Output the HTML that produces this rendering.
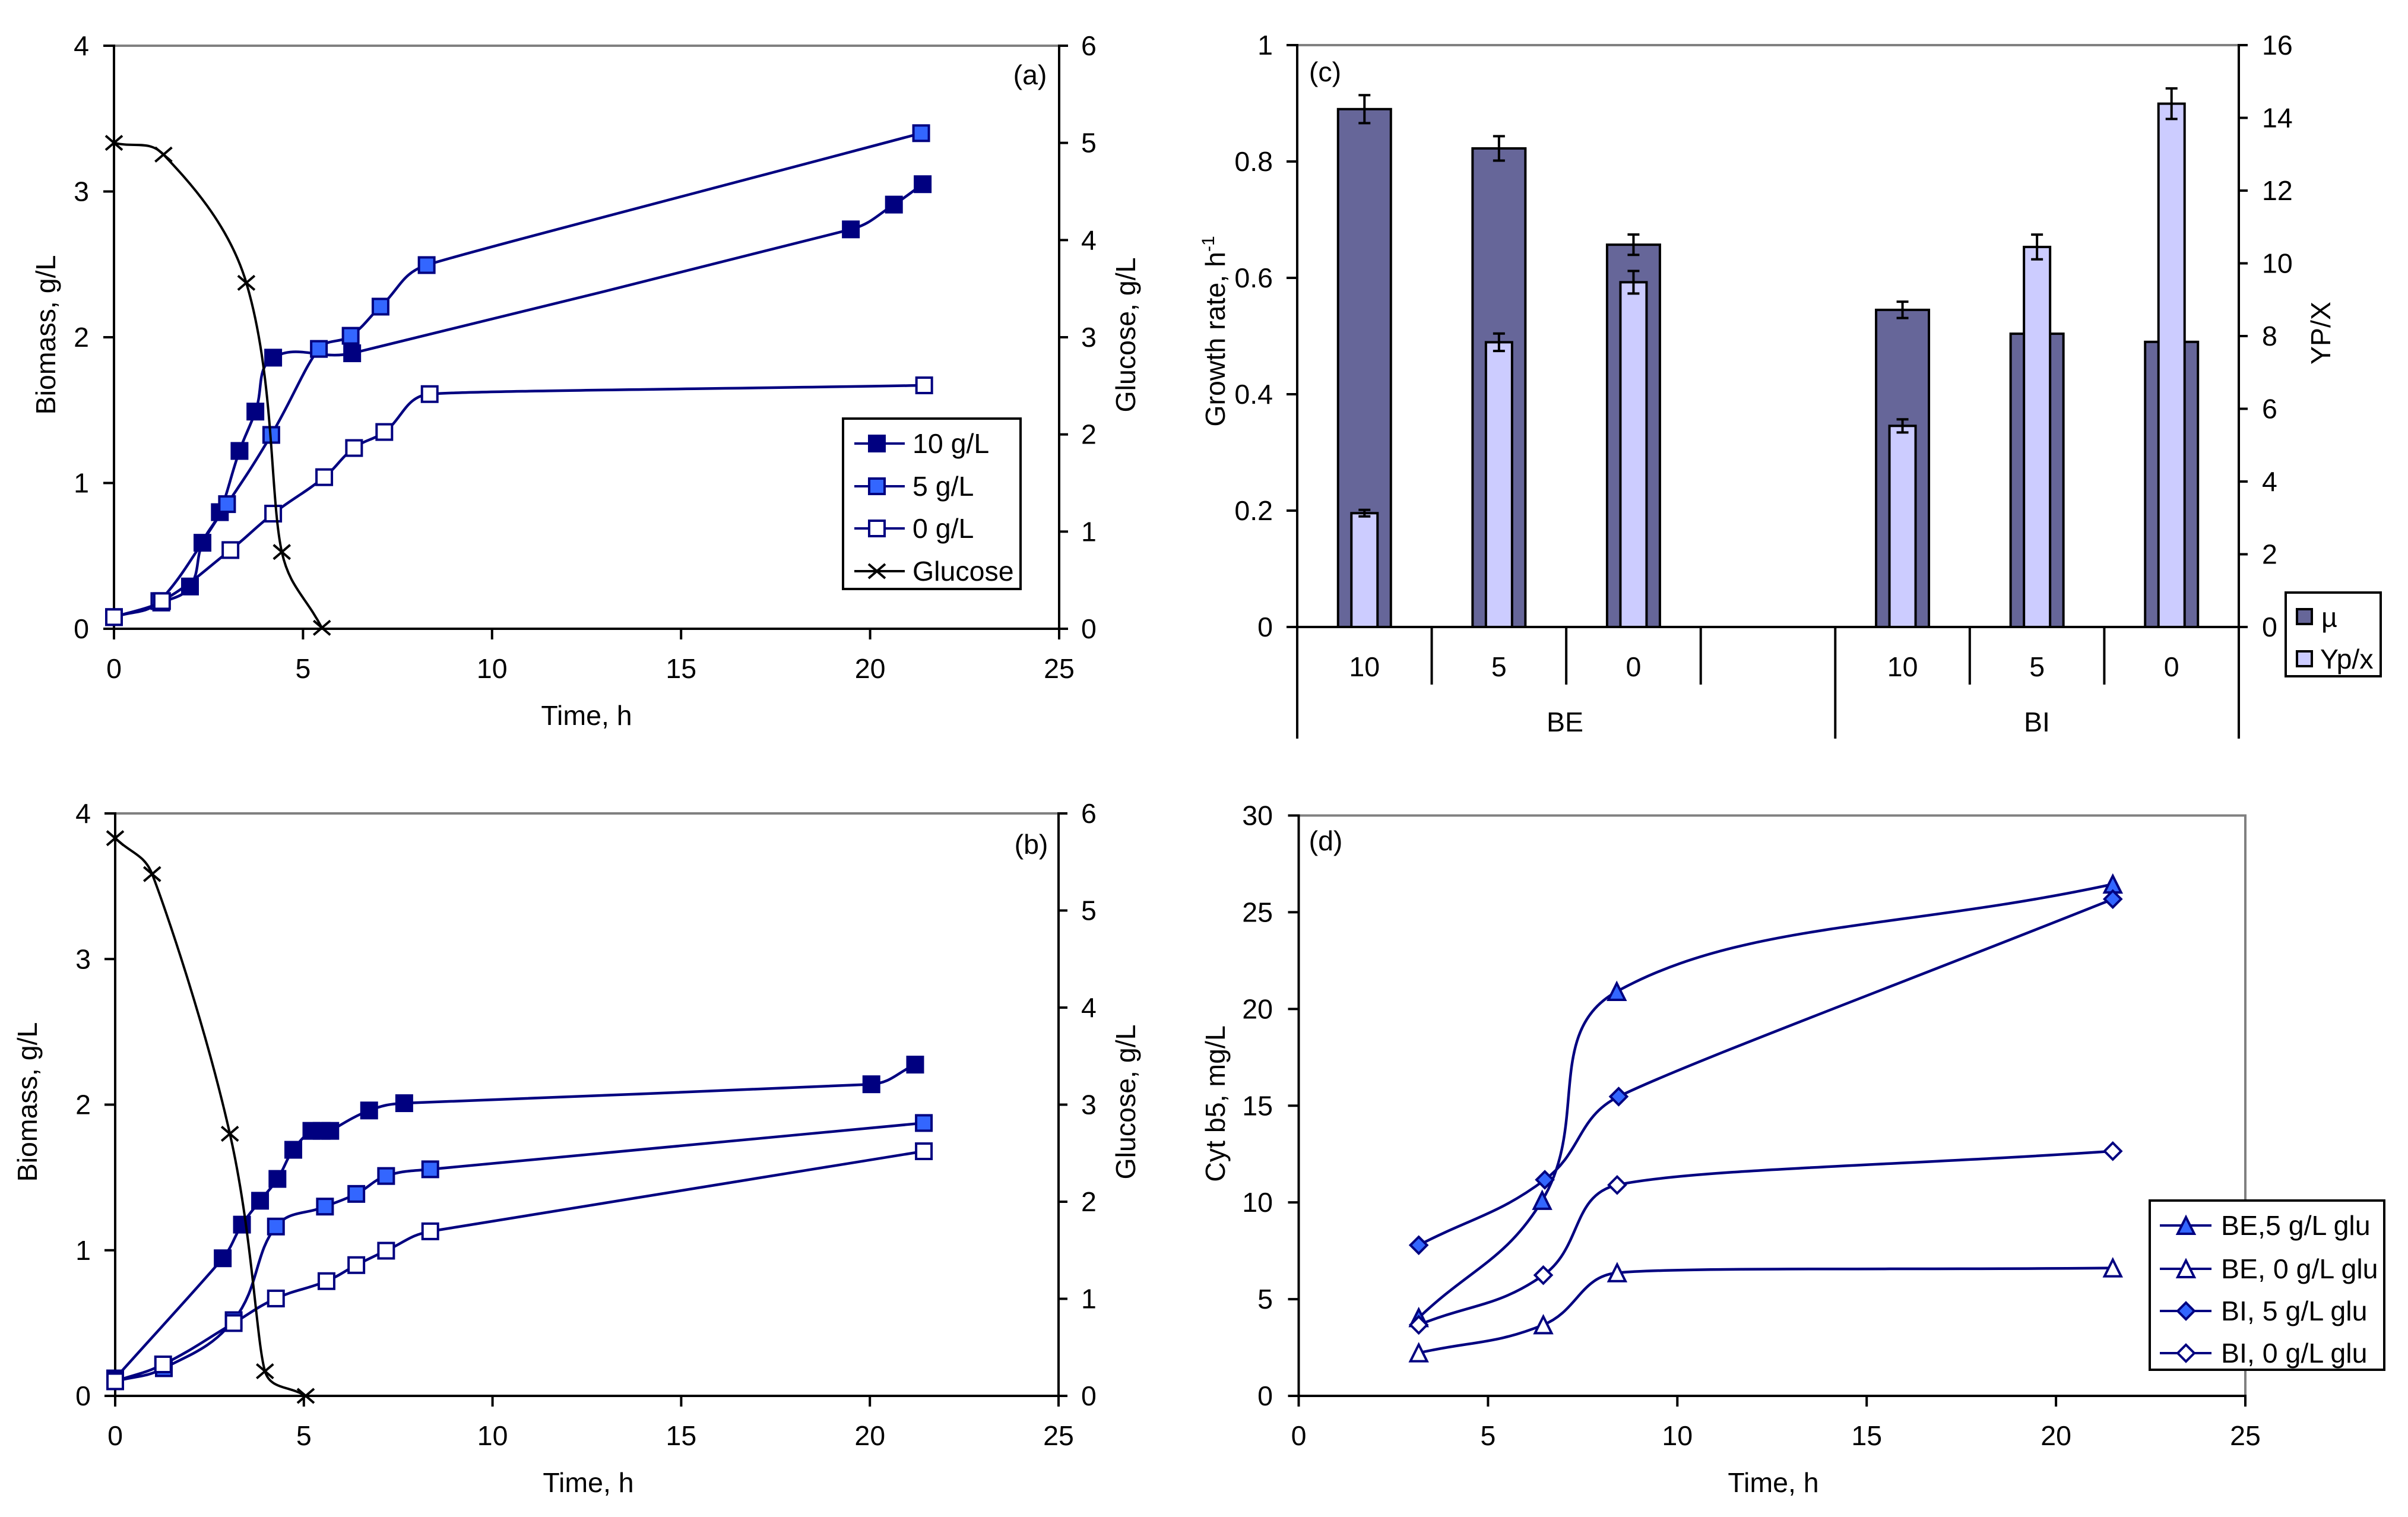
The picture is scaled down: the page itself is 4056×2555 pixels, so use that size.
<!DOCTYPE html>
<html lang="en">
<head>
<meta charset="utf-8">
<title>Biomass, glucose, growth rate and Cyt b5 charts</title>
<style>
html,body{margin:0;padding:0;background:#fff;}
#figure{display:block;width:4056px;height:2555px;background:#fff;}
text{font-family:"Liberation Sans",Arial,sans-serif;font-size:46.5px;fill:#000;}
</style>
</head>
<body>
<svg id="figure" xmlns="http://www.w3.org/2000/svg" width="4056" height="2555" viewBox="0 0 4056 2555"></svg>
<script>
// ---------- tick labels ----------
var timeTicks = [0, 5, 10, 15, 20, 25];
var biomassTicks = [0, 1, 2, 3, 4];
var glucoseTicks = [0, 1, 2, 3, 4, 5, 6];
var growthTicks = [0, 0.2, 0.4, 0.6, 0.8, 1];
var yieldTicks = [0, 2, 4, 6, 8, 10, 12, 14, 16];
var cytTicks = [0, 5, 10, 15, 20, 25, 30];

// ---------- panel (a) ----------
var aTime10 = [0, 1.25, 2.01, 2.34, 2.80, 3.32, 3.74, 4.21, 6.30, 19.49, 20.63, 21.39];
var aBiomass10 = [0.08, 0.18, 0.29, 0.59, 0.80, 1.22, 1.49, 1.86, 1.89, 2.74, 2.91, 3.05];
var aTime5 = [0, 1.2, 2.99, 4.16, 5.42, 6.26, 7.05, 8.27, 21.35];
var aBiomass5 = [0.08, 0.19, 0.855, 1.33, 1.92, 2.01, 2.21, 2.495, 3.40];
var aTime0 = [0, 1.27, 3.08, 4.21, 5.56, 6.35, 7.15, 8.35, 21.43];
var aBiomass0 = [0.08, 0.19, 0.54, 0.79, 1.04, 1.24, 1.35, 1.61, 1.67];
var aGlucoseTime = [0, 1.31, 3.5, 4.44, 5.5];
var aGlucose = [5.0, 4.88, 3.56, 0.79, 0.01];

// ---------- panel (b) ----------
var bTime10 = [0, 2.85, 3.36, 3.84, 4.3, 4.72, 5.2, 5.47, 5.7, 6.73, 7.66, 20.04, 21.2];
var bBiomass10 = [0.12, 0.945, 1.176, 1.34, 1.49, 1.69, 1.82, 1.82, 1.82, 1.96, 2.01, 2.14, 2.275];
var bTime5 = [0, 1.29, 3.14, 4.26, 5.56, 6.39, 7.18, 8.35, 21.43];
var bBiomass5 = [0.10, 0.19, 0.52, 1.163, 1.30, 1.387, 1.51, 1.556, 1.874];
var bTime0 = [0, 1.27, 3.14, 4.26, 5.6, 6.39, 7.18, 8.35, 21.43];
var bBiomass0 = [0.10, 0.216, 0.50, 0.669, 0.788, 0.898, 0.997, 1.13, 1.68];
var bGlucoseTime = [0, 0.98, 3.04, 3.97, 5.05];
var bGlucose = [5.745, 5.375, 2.70, 0.254, 0.0];

// ---------- panel (c) ----------
var cCategories = ["10", "5", "0", "", "10", "5", "0"];
var cGroups = ["BE", "BI"];
var cMu = [0.89, 0.8225, 0.657, null, 0.545, 0.504, 0.49];
var cMuError = [0.024, 0.021, 0.0175, null, 0.014, 0, 0];
var cYield = [3.13, 7.83, 9.48, null, 5.53, 10.45, 14.39];
var cYieldError = [0.09, 0.24, 0.31, null, 0.18, 0.34, 0.42];

// ---------- panel (d) ----------
var dTimeBE5 = [3.17, 6.43, 8.4, 21.5];
var dCytBE5 = [4.04, 10.1, 20.9, 26.45];
var dTimeBE0 = [3.17, 6.46, 8.41, 21.5];
var dCytBE0 = [2.22, 3.67, 6.36, 6.61];
var dTimeBI5 = [3.17, 6.5, 8.45, 21.5];
var dCytBI5 = [7.79, 11.17, 15.47, 25.68];
var dTimeBI0 = [3.17, 6.46, 8.41, 21.5];
var dCytBI0 = [3.67, 6.24, 10.9, 12.65];

// ---------- drawing helpers ----------
var NS = 'http://www.w3.org/2000/svg';
var svg = document.getElementById('figure');
var NAVY = '#000080', BLUE = '#3366FF', GRAY = '#808080', SW = 4, CURVE_W = 4.5;

function make(tag, attrs, parent) {
  var el = document.createElementNS(NS, tag);
  for (var k in attrs) { el.setAttribute(k, attrs[k]); }
  (parent || svg).appendChild(el);
  return el;
}
function group(name) {
  var g = make('g', {});
  
  
  return g;
}
function drawLine(parent, name, x1, y1, x2, y2, color, width) {
  var el = make('line', {x1: x1, y1: y1, x2: x2, y2: y2, stroke: color || '#000', 'stroke-width': width || SW}, parent);
  
  
  return el;
}
function drawText(parent, name, str, x, y, anchor) {
  var el = make('text', {x: x, y: y + 16, 'text-anchor': anchor || 'middle'}, parent);
  el.textContent = str;
  
  
  return el;
}
function drawRotated(parent, name, str, x, y) {
  var el = make('text', {x: 0, y: 17, 'text-anchor': 'middle', transform: 'translate(' + x + ' ' + y + ') rotate(-90)'}, parent);
  el.textContent = str;
  
  
  return el;
}
function linear(d0, d1, r0, r1) {
  return function (v) { return r0 + (v - d0) / (d1 - d0) * (r1 - r0); };
}
function smoothPath(pts) {
  var k = 0.42, cap = 0.65;
  var d = 'M' + pts[0][0] + ' ' + pts[0][1];
  function dist(a, b) { return Math.sqrt((a[0]-b[0])*(a[0]-b[0]) + (a[1]-b[1])*(a[1]-b[1])); }
  for (var i = 0; i < pts.length - 1; i++) {
    var p0 = pts[i-1] || pts[i], p1 = pts[i], p2 = pts[i+1], p3 = pts[i+2] || p2;
    var d1 = dist(p0, p1), d2 = dist(p1, p2), d3 = dist(p2, p3);
    var f1 = k * d2 / ((d1 + d2) || 1), f2 = k * d2 / ((d2 + d3) || 1);
    var l1 = dist(p2, p0) * f1, l2 = dist(p3, p1) * f2;
    if (d1 > 0 && l1 > cap * d1) { f1 *= cap * d1 / l1; }
    if (d3 > 0 && l2 > cap * d3) { f2 *= cap * d3 / l2; }
    d += ' C' + (p1[0] + (p2[0]-p0[0])*f1).toFixed(1) + ' ' + (p1[1] + (p2[1]-p0[1])*f1).toFixed(1) +
         ' ' + (p2[0] - (p3[0]-p1[0])*f2).toFixed(1) + ' ' + (p2[1] - (p3[1]-p1[1])*f2).toFixed(1) +
         ' ' + p2[0].toFixed(1) + ' ' + p2[1].toFixed(1);
  }
  return d;
}
function drawMarker(parent, name, kind, fill, cx, cy) {
  var el;
  if (kind === 'square') {
    el = make('rect', {x: cx - 13, y: cy - 13, width: 26, height: 26, fill: fill, stroke: NAVY, 'stroke-width': SW}, parent);
  } else if (kind === 'triangle') {
    el = make('polygon', {points: cx + ',' + (cy - 14) + ' ' + (cx + 14) + ',' + (cy + 14) + ' ' + (cx - 14) + ',' + (cy + 14), fill: fill, stroke: NAVY, 'stroke-width': SW}, parent);
  } else if (kind === 'diamond') {
    el = make('polygon', {points: cx + ',' + (cy - 14) + ' ' + (cx + 14) + ',' + cy + ' ' + cx + ',' + (cy + 14) + ' ' + (cx - 14) + ',' + cy, fill: fill, stroke: NAVY, 'stroke-width': SW}, parent);
  } else {
    el = make('path', {d: 'M' + (cx-14) + ' ' + (cy+12) + ' L' + (cx+14) + ' ' + (cy-12) + ' M' + (cx-14) + ' ' + (cy-12) + ' L' + (cx+14) + ' ' + (cy+12), fill: 'none', stroke: '#000', 'stroke-width': SW}, parent);
  }
  
  
  return el;
}
function drawSeries(name, xs, ys, xFn, yFn, kind, fill, color, width) {
  var g = group(name + '-series');
  var pts = xs.map(function (x, i) { return [xFn(x), yFn(ys[i])]; });
  var line = make('path', {d: smoothPath(pts), fill: 'none', stroke: color, 'stroke-width': width, 'stroke-linejoin': 'round'}, g);
  
  
  pts.forEach(function (p) {
    drawMarker(g, name + '-point', kind, fill, p[0], p[1]);
  });
}
function drawLeftAxis(g, name, ticks, yFn, x, labelEnd) {
  ticks.forEach(function (t) {
    drawLine(g, name + '-tick', x - 18, yFn(t), x, yFn(t));
    drawText(g, name + '-tick-label', String(t), labelEnd, yFn(t), 'end');
  });
}
function drawRightAxis(g, name, ticks, yFn, x, labelStart) {
  ticks.forEach(function (t) {
    drawLine(g, name + '-tick', x, yFn(t), x + 15, yFn(t));
    drawText(g, name + '-tick-label', String(t), labelStart, yFn(t), 'start');
  });
}
function drawBottomAxis(g, ticks, xFn, y0, labelY) {
  ticks.forEach(function (t) {
    drawLine(g, 'x-axis-tick', xFn(t), y0, xFn(t), y0 + 18);
    drawText(g, 'x-axis-tick-label', String(t), xFn(t), labelY);
  });
}
function drawLegendBox(parent, name, x, y, w, h) {
  var box = make('rect', {x: x, y: y, width: w, height: h, fill: '#fff', stroke: '#000', 'stroke-width': SW}, parent);
  
  
}
function drawLegendRow(parent, name, label, y, lx1, lx2, mx, tx, kind, fill, color) {
  drawLine(parent, name + '-legend-line', lx1, y, lx2, y, color, SW);
  drawMarker(parent, name + '-legend-marker', kind, fill, mx, y);
  drawText(parent, name + '-legend-label', label, tx, y, 'start');
}

// ---------- time-course panels (a) and (b) ----------
function timeCoursePanel(id, L, R, T, B, leftLabelEnd, rightLabelStart, xLabelY, layout, data) {
  var xFn = linear(0, 25, L, R);
  var yLeft = linear(0, 4, B, T);
  var yRight = linear(0, 6, B, T);
  var axes = group('panel-' + id + '-axes');
  drawLine(axes, 'plot-top-border', L - 2, T, R + 2, T, GRAY);
  drawLine(axes, 'left-axis-line', L, T - 2, L, B + 18);
  drawLine(axes, 'right-axis-line', R, T - 2, R, B + 2);
  drawLine(axes, 'x-axis-line', L - 18, B, R + 15, B);
  drawLeftAxis(axes, 'biomass-axis', biomassTicks, yLeft, L, leftLabelEnd);
  drawRightAxis(axes, 'glucose-axis', glucoseTicks, yRight, R, rightLabelStart);
  drawBottomAxis(axes, timeTicks, xFn, B, xLabelY);
  drawRotated(axes, 'biomass-axis-title', 'Biomass, g/L', layout.biomassX, layout.titleY);
  drawRotated(axes, 'glucose-axis-title', 'Glucose, g/L', 1895, layout.titleY);
  drawText(axes, 'time-axis-title', 'Time, h', layout.timeX, layout.timeY);
  drawText(axes, 'panel-' + id + '-label', '(' + id + ')', layout.tagX, layout.tagY);
  drawSeries(id + '-10-g-l', data.t10, data.b10, xFn, yLeft, 'square', NAVY, NAVY, CURVE_W);
  drawSeries(id + '-5-g-l', data.t5, data.b5, xFn, yLeft, 'square', BLUE, NAVY, CURVE_W);
  drawSeries(id + '-0-g-l', data.t0, data.b0, xFn, yLeft, 'square', '#fff', NAVY, CURVE_W);
  drawSeries(id + '-glucose', data.tg, data.g, xFn, yRight, 'cross', 'none', '#000', 4);
}
timeCoursePanel('a', 192, 1784, 77, 1059, 150, 1821, 1126,
  {biomassX: 76, titleY: 564, timeX: 988, timeY: 1205, tagX: 1735, tagY: 126},
  {t10: aTime10, b10: aBiomass10, t5: aTime5, b5: aBiomass5, t0: aTime0, b0: aBiomass0, tg: aGlucoseTime, g: aGlucose});
timeCoursePanel('b', 194, 1783, 1370, 2351, 153, 1821, 2418,
  {biomassX: 45, titleY: 1856, timeX: 991, timeY: 2497, tagX: 1737, tagY: 1422},
  {t10: bTime10, b10: bBiomass10, t5: bTime5, b5: bBiomass5, t0: bTime0, b0: bBiomass0, tg: bGlucoseTime, g: bGlucose});

// legend for panel (a)
var legendA = group('panel-a-legend');
drawLegendBox(legendA, 'legend-frame', 1420, 705, 299, 287);
drawLegendRow(legendA, 'ten-g-l', '10 g/L', 747, 1439, 1524, 1477, 1537, 'square', NAVY, NAVY);
drawLegendRow(legendA, 'five-g-l', '5 g/L', 819, 1439, 1524, 1477, 1537, 'square', BLUE, NAVY);
drawLegendRow(legendA, 'zero-g-l', '0 g/L', 890, 1439, 1524, 1477, 1537, 'square', '#fff', NAVY);
drawLegendRow(legendA, 'glucose', 'Glucose', 962, 1439, 1524, 1477, 1537, 'cross', 'none', '#000');

// ---------- bar panel (c) ----------
(function () {
  var L = 2185, R = 3771, T = 76, B = 1056;
  var yMu = linear(0, 1, B, T);
  var yYield = linear(0, 16, B, T);
  var catWidth = (R - L) / cCategories.length;
  function catX(i) { return L + catWidth * (i + 0.5); }
  function catEdge(i) { return L + catWidth * i; }
  var DARK_W = 89, LIGHT_W = 44;

  var axes = group('panel-c-axes');
  drawLine(axes, 'plot-top-border', L - 2, T, R + 2, T, GRAY);
  drawLine(axes, 'left-axis-line', L, T - 2, L, 1244);
  drawLine(axes, 'right-axis-line', R, T - 2, R, 1244);
  drawLeftAxis(axes, 'growth-rate-axis', growthTicks, yMu, L, 2144);
  drawRightAxis(axes, 'yield-axis', yieldTicks, yYield, R, 3810);
  var title = drawRotated(axes, 'growth-rate-axis-title', 'Growth rate, h', 2046, 558);
  var sup = make('tspan', {dy: -18, 'font-size': 30}, title);
  sup.textContent = '-1';
  
  
  drawRotated(axes, 'yield-axis-title', 'YP/X', 3908, 561);
  drawText(axes, 'panel-c-label', '(c)', 2232, 121);

  function bar(name, i, value, yFn, width, fill) {
    if (value === null) { return; }
    var el = make('rect', {x: catX(i) - width / 2, y: yFn(value), width: width, height: B - yFn(value), fill: fill, stroke: '#000', 'stroke-width': SW});
    
    
  }
  function errorBar(name, i, value, err, yFn) {
    if (value === null || !err) { return; }
    var g = group(name);
    drawLine(g, 'error-bar-stem', catX(i), yFn(value + err), catX(i), yFn(value - err));
    drawLine(g, 'error-bar-cap-top', catX(i) - 10, yFn(value + err), catX(i) + 10, yFn(value + err));
    drawLine(g, 'error-bar-cap-bottom', catX(i) - 10, yFn(value - err), catX(i) + 10, yFn(value - err));
  }
  cMu.forEach(function (v, i) { bar('mu-bar', i, v, yMu, DARK_W, '#666699'); });
  cMu.forEach(function (v, i) { errorBar('mu-error-bar', i, v, cMuError[i], yMu); });
  cYield.forEach(function (v, i) { bar('yield-bar', i, v, yYield, LIGHT_W, '#CCCCFF'); });
  cYield.forEach(function (v, i) { errorBar('yield-error-bar', i, v, cYieldError[i], yYield); });

  var cats = group('panel-c-category-axis');
  drawLine(cats, 'x-axis-line', L - 18, B, R + 15, B);
  cCategories.forEach(function (c, i) {
    if (c) { drawText(cats, 'category-label', c, catX(i), 1123); }
    if (i > 0) {
      var edge = i === 4 ? 1244 : 1153;
      drawLine(cats, 'category-divider', catEdge(i), B, catEdge(i), edge);
    }
  });
  drawText(cats, 'group-label', cGroups[0], 2636, 1216);
  drawText(cats, 'group-label', cGroups[1], 3431, 1216);

  var legend = group('panel-c-legend');
  drawLegendBox(legend, 'legend-frame', 3850, 998, 160, 141);
  var s1 = make('rect', {x: 3869, y: 1026, width: 25, height: 25, fill: '#666699', stroke: '#000', 'stroke-width': SW}, legend);
  
  
  drawText(legend, 'mu-legend-label', 'µ', 3910, 1040, 'start');
  var s2 = make('rect', {x: 3869, y: 1097, width: 25, height: 25, fill: '#CCCCFF', stroke: '#000', 'stroke-width': SW}, legend);
  
  
  drawText(legend, 'yield-legend-label', 'Yp/x', 3908, 1110, 'start');
})();

// ---------- Cyt b5 panel (d) ----------
(function () {
  var L = 2187.5, R = 3782, T = 1373.5, B = 2351;
  var xFn = linear(0, 25, L, R);
  var yFn = linear(0, 30, B, T);
  var axes = group('panel-d-axes');
  drawLine(axes, 'plot-top-border', L - 2, T, R + 2, T, GRAY);
  drawLine(axes, 'plot-right-border', R, T - 2, R, B + 2, GRAY);
  drawLine(axes, 'left-axis-line', L, T - 2, L, B + 2);
  drawLine(axes, 'x-axis-line', L - 18, B, R + 2, B);
  drawLeftAxis(axes, 'cyt-b5-axis', cytTicks, yFn, L, 2144);
  drawBottomAxis(axes, timeTicks, xFn, B, 2418);
  drawRotated(axes, 'cyt-b5-axis-title', 'Cyt b5, mg/L', 2046, 1859);
  drawText(axes, 'time-axis-title', 'Time, h', 2987, 2497);
  drawText(axes, 'panel-d-label', '(d)', 2233, 1416);
  drawSeries('be-5-g-l', dTimeBE5, dCytBE5, xFn, yFn, 'triangle', BLUE, NAVY, CURVE_W);
  drawSeries('be-0-g-l', dTimeBE0, dCytBE0, xFn, yFn, 'triangle', '#fff', NAVY, CURVE_W);
  drawSeries('bi-5-g-l', dTimeBI5, dCytBI5, xFn, yFn, 'diamond', BLUE, NAVY, CURVE_W);
  drawSeries('bi-0-g-l', dTimeBI0, dCytBI0, xFn, yFn, 'diamond', '#fff', NAVY, CURVE_W);

  var legend = group('panel-d-legend');
  drawLegendBox(legend, 'legend-frame', 3621, 2022, 395, 285);
  drawLegendRow(legend, 'be-5', 'BE,5 g/L glu', 2064, 3638, 3725, 3682, 3741, 'triangle', BLUE, NAVY);
  drawLegendRow(legend, 'be-0', 'BE, 0 g/L glu', 2137, 3638, 3725, 3682, 3741, 'triangle', '#fff', NAVY);
  drawLegendRow(legend, 'bi-5', 'BI, 5 g/L glu', 2208, 3638, 3725, 3682, 3741, 'diamond', BLUE, NAVY);
  drawLegendRow(legend, 'bi-0', 'BI, 0 g/L glu', 2279, 3638, 3725, 3682, 3741, 'diamond', '#fff', NAVY);
})();
</script>
</body>
</html>
